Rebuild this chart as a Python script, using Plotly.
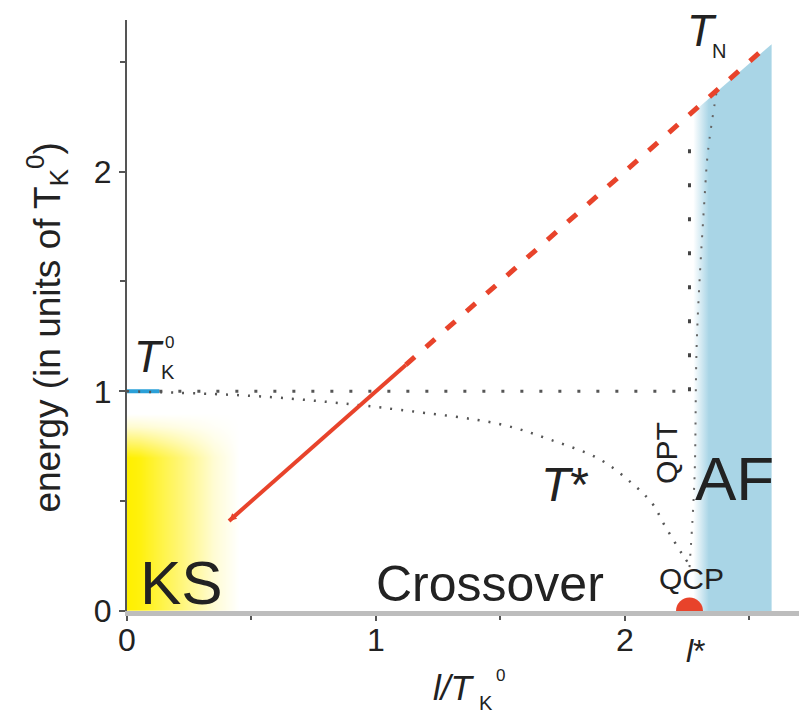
import plotly.graph_objects as go

# --- phase diagram data (coupling l / T_K^0 vs energy in units of T_K^0) ---
l_star = 2.26

# Neel temperature T_N: computed (solid) and extrapolated (dashed) parts
tn_solid_l = [0.41, 1.12]
tn_solid_e = [0.41, 1.12]
tn_dash_l = [1.12, 2.58]
tn_dash_e = [1.12, 2.58]

# crossover scale T*
tstar_l = [0.0, 0.49, 0.82, 1.10, 1.50, 1.70, 1.90, 2.03, 2.11, 2.16, 2.23, 2.26]
tstar_e = [1.0, 0.98, 0.95, 0.915, 0.85, 0.78, 0.69, 0.58, 0.49, 0.39, 0.26, 0.21]

# single-impurity Kondo scale T_K^0
tk_level = 1.0
tk_mark_l = [0.0, 0.13]
tk_dot_l = [0.13, l_star]

# quantum phase transition boundaries
qpt_coarse_e = [1.0, 2.12]
qpt_fine_l = [2.26, 2.28, 2.29, 2.32, 2.335, 2.37]
qpt_fine_e = [0.20, 0.60, 1.25, 1.87, 2.10, 2.37]

# antiferromagnetic region outline
af_l = [2.275, 2.275, 2.59, 2.59, 2.275]
af_e = [0.0, 2.27, 2.58, 0.0, 0.0]

# Kondo-screened region shading (grid and fade weights)
ks_l = [0.0, 0.05, 0.15, 0.25, 0.35, 0.45]
ks_fade_l = [1.0, 0.95, 0.68, 0.42, 0.16, 0.0]
ks_e = [0.0, 0.70, 0.77, 0.84, 0.90]
ks_fade_e = [1.0, 1.0, 0.55, 0.18, 0.0]

x_ticks = [0, 1, 2]
y_ticks = [0, 1, 2]
minor_ticks = [0.5, 1.5, 2.5]
y_top = 2.69

RED = "#E8432B"
FONT = "Liberation Sans, Arial, sans-serif"
INK = "#222222"

fig = go.Figure()

# KS shading
fig.add_trace(go.Heatmap(
    x=ks_l, y=ks_e,
    z=[[fx * fy for fx in ks_fade_l] for fy in ks_fade_e],
    zmin=0, zmax=1, zsmooth="best", showscale=False, hoverinfo="skip",
    colorscale=[[0, "#ffffff"], [0.5, "#fff67a"], [1, "#fff000"]],
))

# AF region with soft left edge
fig.add_trace(go.Scatter(
    x=af_l, y=af_e, mode="lines", fill="toself", line=dict(width=0),
    fillgradient=dict(type="horizontal", colorscale=[
        [0.0, "rgba(169,213,230,0)"], [0.2, "rgba(169,213,230,1)"], [1.0, "rgba(169,213,230,1)"]]),
    hoverinfo="skip",
))

# T_K^0 level
fig.add_trace(go.Scatter(x=tk_mark_l, y=[tk_level] * 2, mode="lines",
                         line=dict(color="#2AA0D8", width=4), hoverinfo="skip"))
fig.add_trace(go.Scatter(x=tk_dot_l, y=[tk_level] * 2, mode="lines",
                         line=dict(color="#555555", width=3, dash="3px,16px"), hoverinfo="skip"))

# T* curve
fig.add_trace(go.Scatter(x=tstar_l, y=tstar_e, mode="lines",
                         line=dict(color="#555555", width=2.5, dash="2px,9px", shape="spline"),
                         hoverinfo="skip"))

# QPT lines
fig.add_trace(go.Scatter(x=[l_star] * 2, y=qpt_coarse_e, mode="lines",
                         line=dict(color="#444444", width=3, dash="4px,30px"), hoverinfo="skip"))
fig.add_trace(go.Scatter(x=qpt_fine_l, y=qpt_fine_e, mode="lines",
                         line=dict(color="#666666", width=2, dash="2px,9px", shape="spline"),
                         hoverinfo="skip"))

# T_N line
fig.add_trace(go.Scatter(x=tn_solid_l, y=tn_solid_e, mode="lines",
                         line=dict(color=RED, width=4), hoverinfo="skip"))
fig.add_trace(go.Scatter(x=tn_dash_l, y=tn_dash_e, mode="lines",
                         line=dict(color=RED, width=5, dash="12px,15px"), hoverinfo="skip"))

# quantum critical point
fig.add_trace(go.Scatter(x=[l_star], y=[0], mode="markers", cliponaxis=True,
                         marker=dict(color=RED, size=27, line=dict(width=0)), hoverinfo="skip"))

annotations = []


def label(text, x, y, size, angle=0, xref="x", yref="y"):
    annotations.append(dict(text=text, x=x, y=y, xref=xref, yref=yref, showarrow=False,
                            textangle=angle, font=dict(size=size, color=INK, family=FONT),
                            xanchor="center", yanchor="middle"))


def below(text, x, e, size):
    # text placed under the plot area: energy value converted to paper fraction
    label(text, x, e / y_top, size, yref="paper")


# small arrow head on the lower end of the T_N line
annotations.append(dict(x=tn_solid_l[0], y=tn_solid_e[0], ax=0.45, ay=0.45, axref="x", ayref="y",
                        xref="x", yref="y", showarrow=True, arrowhead=2, arrowsize=0.5,
                        arrowwidth=3, arrowcolor=RED, text=""))

label("KS", 0.22, 0.13, 62)
label("Crossover", 1.46, 0.125, 50)
label("AF", 2.44, 0.605, 62)
label("QCP", 2.27, 0.15, 30)
label("QPT", 2.17, 0.72, 30, angle=-90)
label("<i>T</i>*", 1.76, 0.575, 48)

# T_K^0 label
label("<i>T</i>", 0.088, 1.16, 44)
label("K", 0.165, 1.09, 20)
label("0", 0.17, 1.22, 17)

# T_N label
label("<i>T</i>", 2.31, 2.64, 44)
label("N", 2.38, 2.55, 20)

# l* tick label
below("<i>l</i>*", 2.285, -0.18, 32)

# x-axis title l/T_K^0
below("<i>l/T</i>", 1.315, -0.35, 35)
below("K", 1.443, -0.42, 20)
below("0", 1.50, -0.295, 17)

# y-axis title
label("energy (in units of T<sub>K</sub><sup>0</sup>)", -0.119, 1.29, 37, angle=-90, xref="paper")

fig.update_layout(
    width=799, height=718,
    margin=dict(l=127, r=0, t=20, b=107),
    paper_bgcolor="white", plot_bgcolor="white",
    showlegend=False,
    font=dict(family=FONT, color=INK, size=32),
    annotations=annotations,
    xaxis=dict(range=[0, 2.7], tickvals=x_ticks, ticks="outside", ticklen=5, tickwidth=2,
               tickcolor="#555555", showline=True, linecolor="#bdbdbd", linewidth=5,
               showgrid=False, zeroline=False, tickfont=dict(size=32, color=INK),
               ticklabelstandoff=-8,
               minor=dict(tickvals=minor_ticks, ticks="outside", ticklen=4, tickwidth=2,
                          tickcolor="#555555", showgrid=False)),
    yaxis=dict(range=[0, y_top], tickvals=y_ticks, ticks="outside", ticklen=6, tickwidth=2,
               tickcolor="#555555", showline=True, linecolor="#555555", linewidth=2,
               showgrid=False, zeroline=False, tickfont=dict(size=32, color=INK),
               ticklabelstandoff=1,
               minor=dict(tickvals=minor_ticks, ticks="outside", ticklen=5, tickwidth=2,
                          tickcolor="#555555", showgrid=False)),
)

fig.write_html("out.html")
